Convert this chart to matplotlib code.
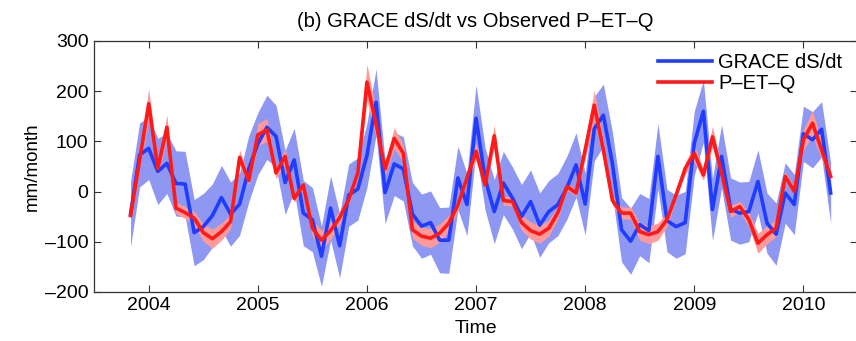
import matplotlib
matplotlib.use("Agg")
import matplotlib.pyplot as plt
import numpy as np

plt.rcParams["font.family"] = ["Liberation Sans", "DejaVu Sans"]

# monthly series, Nov 2003 .. Apr 2010
start_year = 2003
start_month = 11
n_months = 78

grace = [-45, 73, 86, 40, 56, 16, 15, -82, -70, -48, -12, -45, -25, 45, 95, 128,
         110, 18, 63, -43, -56, -129, -33, -108, -7, 5, 72, 178, -2, 55, 45, -45,
         -69, -62, -97, -97, 27, -26, 146, 25, -40, 17, -13, -50, -20, -67, -40,
         -26, 8, 53, -25, 125, 152, 55, -76, -99, -66, -78, 70, -58, -70, -62, 96,
         160, -36, 70, -35, -43, -40, 20, -63, -85, -3, -26, 115, 103, 124, -3]
grace_err = [65, 64, 62, 66, 60, 65, 65, 66, 66, 63, 64, 64, 62, 66, 62, 64,
             62, 64, 63, 65, 64, 60, 64, 64, 62, 62, 64, 66, 62, 63, 64, 63,
             64, 63, 65, 66, 63, 62, 66, 62, 64, 63, 62, 64, 63, 64, 62, 62,
             63, 64, 62, 64, 62, 63, 64, 66, 62, 64, 65, 62, 63, 62, 64, 62,
             62, 63, 62, 62, 60, 63, 60, 62, 60, 60, 55, 56, 55, 60]

pet_q = [-48, 62, 175, 46, 128, -33, -42, -53, -82, -94, -80, -60, 68, 22, 113,
         123, 37, 70, -14, 13, -73, -97, -78, -52, -16, 37, 218, 135, 45, 106,
         76, -76, -89, -93, -83, -63, -27, 27, 80, 13, 111, -18, -20, -62, -78,
         -85, -73, -42, 10, -3, 83, 172, 83, -18, -43, -43, -80, -86, -80, -56,
         -7, 46, 76, 33, 109, 37, -40, -30, -56, -103, -86, -73, 30, 0, 103, 136,
         83, 30]
pet_q_err = [13, 15, 30, 12, 24, 11, 12, 13, 17, 19, 17, 14, 15, 9, 22, 23, 11,
             16, 8, 8, 16, 20, 17, 13, 8, 11, 36, 25, 12, 21, 17, 17, 18, 19, 18,
             15, 10, 10, 17, 8, 22, 9, 9, 15, 17, 18, 16, 12, 7, 6, 18, 30, 18, 9,
             12, 12, 17, 18, 17, 14, 7, 12, 17, 11, 21, 11, 12, 10, 14, 20, 18,
             16, 10, 6, 20, 25, 18, 10]

t = start_year + (start_month - 1 + np.arange(n_months)) / 12.0
grace = np.array(grace, float)
grace_err = np.array(grace_err, float)
pet_q = np.array(pet_q, float)
pet_q_err = np.array(pet_q_err, float)

blue = "#1f3cff"
red = "#ff1a1a"

fig = plt.figure(figsize=(8.56, 3.41), dpi=100)
ax = fig.add_axes([0.110, 0.144, 0.891, 0.736])

ax.fill_between(t, grace - grace_err, grace + grace_err, color="#8e98f3",
                lw=0, zorder=1)
ax.fill_between(t, pet_q - pet_q_err, pet_q + pet_q_err, color="#ff9a9a",
                lw=0, zorder=2)
ax.plot(t, grace, color=blue, lw=2.6, zorder=3, label="GRACE dS/dt")
ax.plot(t, pet_q, color=red, lw=2.6, zorder=4, label="P\u2013ET\u2013Q")

ax.set_xlim(2003.5, 2010.49)
ax.set_ylim(-200, 300)
ax.set_xticks(np.arange(2004, 2011))
ax.set_yticks(np.arange(-200, 301, 100))
ax.set_yticklabels([f"{v:d}".replace("-", "\u2013") for v in range(-200, 301, 100)])
ax.tick_params(direction="in", top=True, right=True, length=5, width=0.8,
               labelsize=14, color="#333333", pad=4)
for s in ax.spines.values():
    s.set_color("#333333")
    s.set_linewidth(0.9)

ax.set_xlabel("Time", fontsize=14, labelpad=4)
ax.set_ylabel("mm/month", fontsize=13.5, labelpad=3)
ax.set_title("(b) GRACE dS/dt vs Observed P\u2013ET\u2013Q", fontsize=14.5, pad=10)

ax.legend(loc="upper right", frameon=False, fontsize=14.5, handlelength=2.7,
          handletextpad=0.3, borderaxespad=0.2, labelspacing=0.1,
          bbox_to_anchor=(0.997, 1.0))

fig.savefig("out.png", dpi=100)
